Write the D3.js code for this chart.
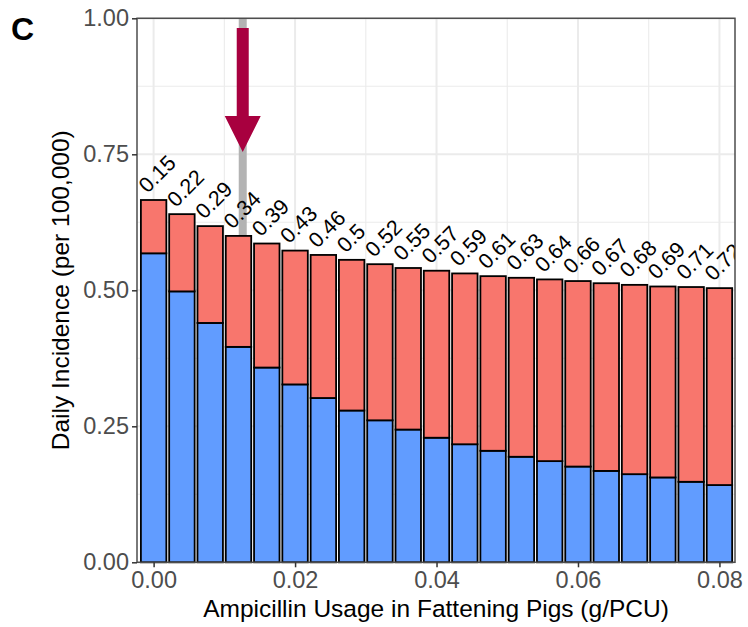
<!DOCTYPE html>
<html>
<head>
<meta charset="utf-8">
<script src="https://cdn.jsdelivr.net/npm/d3@7/dist/d3.min.js"></script>
<style>
  html, body { margin: 0; padding: 0; background: #fff; }
  svg { display: block; font-family: "Liberation Sans", Arial, sans-serif; }
</style>
</head>
<body>
<svg id="chart" width="748" height="627"></svg>
<script>
// --- DATA --------------------------------------------------------------------
const usage = [0.000, 0.004, 0.008, 0.012, 0.016, 0.020, 0.024, 0.028, 0.032, 0.036, 0.040,
               0.044, 0.048, 0.052, 0.056, 0.060, 0.064, 0.068, 0.072, 0.076, 0.080];
const blueVals = [0.568, 0.498, 0.440, 0.396, 0.358, 0.327, 0.302, 0.279, 0.261, 0.244, 0.229,
                  0.217, 0.205, 0.194, 0.186, 0.176, 0.168, 0.162, 0.156, 0.148, 0.142];
const redVals  = [0.098, 0.142, 0.178, 0.204, 0.228, 0.246, 0.263, 0.277, 0.287, 0.297, 0.307,
                  0.314, 0.321, 0.329, 0.334, 0.341, 0.345, 0.348, 0.351, 0.358, 0.362];
const shareLabels = ['0.15', '0.22', '0.29', '0.34', '0.39', '0.43', '0.46', '0.5', '0.52', '0.55', '0.57',
                     '0.59', '0.61', '0.63', '0.64', '0.66', '0.67', '0.68', '0.69', '0.71', '0.72'];
const xTicks = [0, 0.02, 0.04, 0.06, 0.08];
const xMinor = [0.01, 0.03, 0.05, 0.07];
const yTicks = [0, 0.25, 0.5, 0.75, 1];
const yMinor = [0.125, 0.375, 0.625, 0.875];
const markerX = [0.0126];           // grey reference line
const arrowY  = [0.982, 0.754];     // arrow start / tip

// --- CONSTANTS ---------------------------------------------------------------
const W = 748, H = 627;
const M = { top: 18.3, right: 13, bottom: 64.7, left: 137 };
const BAR_W = 0.0036;
const LABEL_DX = -6, LABEL_DY = -6;
const COL = {
  BLUE: '#619CFF', RED: '#F8766D', GRID: '#EBEBEB', BORDER: '#4D4D4D',
  TICK_TXT: '#4D4D4D', MARK: '#B3B3B3', ARROW: '#A8003F'
};

const rows = usage.map((u, i) => ({ u, blue: blueVals[i], red: redVals[i], lab: shareLabels[i] }));

const svg = d3.select('#chart');
const x = d3.scaleLinear().domain([-0.00235, 0.0822]).range([M.left, W - M.right]);
const y = d3.scaleLinear().domain([0, 1]).range([H - M.bottom, M.top]);

svg.append('defs').append('clipPath').attr('id', 'panel-clip')
  .append('rect')
  .attr('x', M.left).attr('y', M.top)
  .attr('width', W - M.left - M.right).attr('height', H - M.top - M.bottom);

// --- GRID --------------------------------------------------------------------
const grid = svg.append('g');
grid.selectAll('line.ymin').data(yMinor).join('line')
  .attr('x1', M.left).attr('x2', W - M.right)
  .attr('y1', d => y(d)).attr('y2', d => y(d))
  .attr('stroke', COL.GRID).attr('stroke-width', 1.1);
grid.selectAll('line.xmin').data(xMinor).join('line')
  .attr('y1', M.top).attr('y2', H - M.bottom)
  .attr('x1', d => x(d)).attr('x2', d => x(d))
  .attr('stroke', COL.GRID).attr('stroke-width', 1.1);
grid.selectAll('line.ymaj').data(yTicks).join('line')
  .attr('x1', M.left).attr('x2', W - M.right)
  .attr('y1', d => y(d)).attr('y2', d => y(d))
  .attr('stroke', COL.GRID).attr('stroke-width', 2);
grid.selectAll('line.xmaj').data(xTicks).join('line')
  .attr('y1', M.top).attr('y2', H - M.bottom)
  .attr('x1', d => x(d)).attr('x2', d => x(d))
  .attr('stroke', COL.GRID).attr('stroke-width', 2);

// reference line (behind bars)
svg.selectAll('line.mark').data(markerX).join('line')
  .attr('x1', d => x(d)).attr('x2', d => x(d))
  .attr('y1', M.top).attr('y2', H - M.bottom)
  .attr('stroke', COL.MARK).attr('stroke-width', 8);

// --- BARS --------------------------------------------------------------------
const stack = d3.stack().keys(['blue', 'red'])(rows);
const fills = { blue: COL.BLUE, red: COL.RED };
svg.append('g').selectAll('g').data(stack).join('g')
  .attr('fill', d => fills[d.key])
  .selectAll('rect').data(d => d).join('rect')
  .attr('x', d => x(d.data.u - BAR_W / 2))
  .attr('width', x(BAR_W) - x(0))
  .attr('y', d => y(d[1]))
  .attr('height', d => y(d[0]) - y(d[1]))
  .attr('stroke', '#000').attr('stroke-width', 1.8);

// --- SHARE LABELS --------------------------------------------------------------
svg.append('g').attr('clip-path', 'url(#panel-clip)')
  .selectAll('text').data(rows).join('text')
  .attr('transform', d => `translate(${x(d.u) + LABEL_DX},${y(d.blue + d.red) + LABEL_DY}) rotate(-45)`)
  .attr('font-size', 21.5).attr('fill', '#000')
  .text(d => d.lab);

// --- ARROW -------------------------------------------------------------------
const ax = x(markerX[0]);
const yTop = y(arrowY[0]), yTip = y(arrowY[1]);
const HEAD_L = 36, HEAD_HW = 18, SHAFT_HW = 6;
svg.append('path')
  .attr('d', `M${ax - SHAFT_HW},${yTop} L${ax + SHAFT_HW},${yTop} L${ax + SHAFT_HW},${yTip - HEAD_L}
    L${ax + HEAD_HW},${yTip - HEAD_L} L${ax},${yTip} L${ax - HEAD_HW},${yTip - HEAD_L}
    L${ax - SHAFT_HW},${yTip - HEAD_L} Z`)
  .attr('fill', COL.ARROW);

// --- PANEL BORDER ------------------------------------------------------------
svg.append('rect')
  .attr('x', M.left).attr('y', M.top)
  .attr('width', W - M.left - M.right).attr('height', H - M.top - M.bottom)
  .attr('fill', 'none').attr('stroke', COL.BORDER).attr('stroke-width', 1.5);

// --- AXES --------------------------------------------------------------------
const fmt = d3.format('.2f');
const yAxis = svg.append('g').attr('transform', `translate(${M.left},0)`)
  .call(d3.axisLeft(y).tickValues(yTicks).tickFormat(fmt).tickSize(5).tickPadding(3));
const xAxis = svg.append('g').attr('transform', `translate(0,${H - M.bottom})`)
  .call(d3.axisBottom(x).tickValues(xTicks).tickFormat(fmt).tickSize(5).tickPadding(4));
[yAxis, xAxis].forEach(a => {
  a.select('.domain').remove();
  a.selectAll('line').attr('stroke', '#333').attr('stroke-width', 1.5);
  a.selectAll('text').attr('fill', COL.TICK_TXT).attr('font-size', 23.5)
    .attr('font-family', '"Liberation Sans", Arial, sans-serif');
});

// titles
svg.append('text')
  .attr('x', (M.left + W - M.right) / 2).attr('y', 617)
  .attr('text-anchor', 'middle').attr('font-size', 24.5).attr('fill', '#000')
  .text('Ampicillin Usage in Fattening Pigs (g/PCU)');
svg.append('text')
  .attr('transform', `translate(69,${(M.top + H - M.bottom) / 2}) rotate(-90)`)
  .attr('text-anchor', 'middle').attr('font-size', 24.5).attr('fill', '#000')
  .text('Daily Incidence (per 100,000)');

// panel tag
svg.append('text')
  .attr('x', 11).attr('y', 40)
  .attr('font-size', 32).attr('font-weight', 'bold').attr('fill', '#000')
  .text('C');
</script>
</body>
</html>
